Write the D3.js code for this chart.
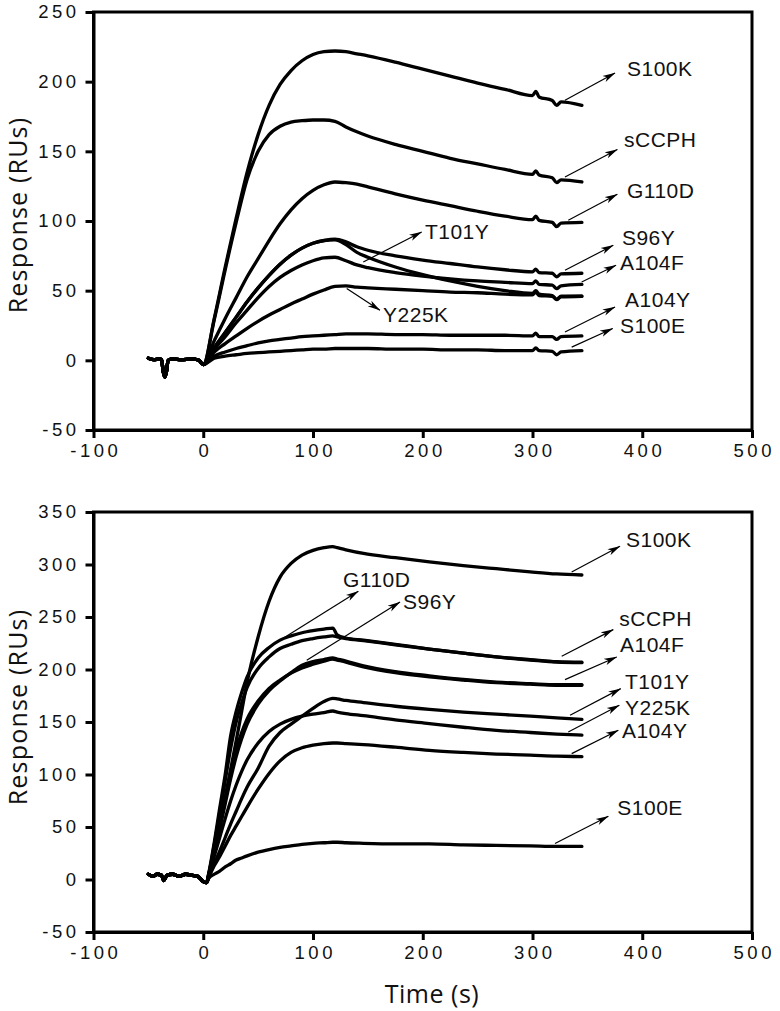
<!DOCTYPE html>
<html>
<head>
<meta charset="utf-8">
<script src="https://cdn.jsdelivr.net/npm/d3@7/dist/d3.min.js"></script>
<style>
  html, body { margin: 0; padding: 0; background: #fff; }
  svg { display: block; }
</style>
</head>
<body>
<svg id="chart" width="780" height="1011"></svg>
<script>
// ---------------- DATA ----------------
const xTicks = [-100, 0, 100, 200, 300, 400, 500];
const topYTicks = [-50, 0, 50, 100, 150, 200, 250];
const botYTicks = [-50, 0, 50, 100, 150, 200, 250, 300, 350];

// Top panel: pre-injection baseline (shared by all traces)
const topBaseTime = [-50, -45, -40, -38, -36.5, -35, -33.5, -32, -28, -20, -10, -4, 0];
const topBaseVals = [1.5, 0.5, 1, 0.5, -8, -12, -8, 0, 1, 0.5, 1, 0, -3];
// Top panel: time points after injection
const topTime = [10, 20, 30, 40, 50, 60, 70, 80, 90, 100, 110, 120, 130, 140, 150, 175, 200, 225, 250, 275, 300, 303, 306, 318, 322, 326, 345];
const topS100K = [30, 67, 102, 135, 162, 183, 198, 208, 215, 219.5, 221.5, 222, 221.5, 220, 218.5, 214, 209, 204, 199, 194.5, 190, 193, 189, 186.5, 183, 185.5, 183];
const topSCCPH = [29, 65, 99, 130, 150, 162, 168, 171, 172, 172.5, 172.5, 171.5, 167.5, 164, 161, 155, 150, 145, 141, 137, 133.5, 136, 133, 131, 127.5, 129.5, 128];
const topG110D = [14, 30, 45, 60, 73, 86, 98, 108, 116, 122, 126, 128, 127.5, 126.5, 124.5, 119.5, 115, 111, 107, 103.5, 101, 103.5, 100.5, 99, 96, 98.5, 99];
const topS96Y  = [9, 20, 31, 42, 52, 61, 69, 75.5, 80.5, 84, 86, 87, 85, 81.5, 79, 75, 72, 69.5, 67, 65, 63.5, 65.5, 63, 62.5, 60, 62, 62.5];
const topT101Y = [9, 20, 31, 42, 52, 61, 69, 75.5, 80.5, 84, 86, 86.5, 83, 77.5, 74, 67, 61.5, 57, 53, 50, 48, 50, 47.5, 46.5, 44, 46, 46];
const topA104F = [8, 17, 27, 36, 45, 53, 59.5, 64.5, 68.5, 71.5, 73.5, 74, 71.5, 68.5, 66.5, 63, 60.5, 58.5, 57, 56, 55, 57, 54.5, 54, 51.5, 53.5, 54.5];
const topY225K = [6, 12, 17.5, 23, 28, 32.5, 36.5, 40.5, 44, 47.5, 50.5, 53, 53.5, 52.5, 52, 51, 50, 49, 48.5, 47.5, 47, 49, 46.5, 46, 43.5, 45.5, 46];
const topA104Y = [3, 6, 8.5, 10.5, 12.5, 14, 15, 16, 17, 17.5, 18, 18.5, 19, 19, 19, 18.5, 18.5, 18, 18, 18, 17.5, 19.5, 17, 17, 15, 17, 17.5];
const topS100E = [1.5, 3, 4, 5, 5.5, 6, 6.5, 7, 7.5, 8, 8, 8.5, 8.5, 8.5, 8.5, 8, 8, 7.5, 7.5, 7, 7, 9, 7, 6.5, 4, 6, 7];

// Bottom panel
const botBaseTime = [-50, -46, -42, -38, -36, -33, -28, -22, -16, -10, -5, 0, 3];
const botBaseVals = [5, 3, 5, 4, -1, 4, 5, 3, 5, 4, 3, -2, -3];
const botTime = [5, 10, 15, 20, 25, 30, 35, 40, 50, 60, 70, 80, 90, 100, 110, 118, 122, 130, 146, 175, 206, 237, 267, 298, 322, 345];
const botS100K = [5, 30, 52, 78, 105, 132, 160, 188, 231, 265, 288, 301, 309, 313.5, 316, 317, 316, 314, 310.5, 306.5, 302.5, 299, 296, 293, 291, 290];
const botG110D = [6, 35, 68, 100, 137, 160, 178, 193, 211, 221, 228, 232, 235, 237, 238.5, 239.5, 233, 230, 228, 224, 219.5, 215.5, 212, 209.5, 207.5, 207];
const botSCCPH = [5, 33, 63, 94, 125, 150, 168, 183, 201, 212, 220, 224, 227.5, 229.5, 231, 232, 231, 229.5, 227.5, 223.5, 219.5, 215.5, 212, 209, 207, 206.5];
const botA104F = [4, 28, 52, 78, 103, 124, 140, 153, 170, 182, 190, 196.5, 201.5, 205, 208, 210, 209, 207, 202.5, 197, 193, 190, 187.5, 186, 185, 185];
const botS96Y  = [4, 25, 48, 72, 96, 117, 134, 148, 167, 180, 189, 197, 204, 207.5, 209.5, 211, 210, 208, 203.5, 198, 194, 190.5, 188, 186.5, 185.5, 185.5];
const botT101Y = [2, 15, 27, 40, 53, 65, 77, 88, 106, 127, 140, 148, 155.5, 163, 169.5, 172.5, 172, 170.5, 168.5, 165, 162, 159.5, 157.5, 155.5, 154, 152.5];
const botY225K = [3, 22, 40, 58, 75, 90, 103, 114, 130, 141, 148, 152.5, 155.5, 157.5, 159, 160.5, 159.5, 158, 156, 152, 148.5, 145, 142, 140, 138.5, 137.5];
const botA104Y = [2, 13, 22, 32, 42, 51, 60, 69, 86, 101, 113, 121, 125.5, 128, 129.5, 130, 130, 129.5, 128.5, 126, 123, 121, 119.5, 118.5, 117.5, 117];
const botS100E = [1, 5, 8, 12, 15, 18.5, 20.5, 22.5, 26, 28.5, 30.5, 32, 33.5, 34.5, 35, 35.5, 35.5, 35, 34.5, 34, 34, 33, 32.5, 32, 31.5, 31.5];

// Annotations: [label, arrow tail t, tail value, arrow head t, head value, label t, label value]
const topNotes = [
  ["S100K", 329.6, 186.6, 375.2, 206.2, 386.1, 203.9],
  ["sCCPH", 329.6, 131.6, 377.3, 151.3, 383.4, 152.9],
  ["G110D", 332.6, 100.5, 377.3, 119.2, 386.1, 116.3],
  ["S96Y", 329.6, 64.6, 373.6, 82.6, 381.5, 82.6],
  ["A104F", 344.8, 56.2, 376.1, 68.2, 379.7, 64.6],
  ["A104Y", 329.6, 20.3, 375.2, 38.3, 384.3, 38.0],
  ["S100E", 335.7, 9.5, 373.1, 22.8, 379.7, 19.4],
  ["T101Y", 145.8, 70.6, 199.0, 92.1, 202.0, 86.9],
  ["Y225K", 130.7, 51.5, 161.0, 35.9, 163.8, 27.3]
];
const botNotes = [
  ["S100K", 335.7, 292.9, 379.7, 317.3, 385.2, 316.4],
  ["sCCPH", 326.6, 212.6, 373.6, 238.0, 379.1, 241.1],
  ["A104F", 329.6, 190.4, 376.7, 211.9, 379.7, 216.4],
  ["T101Y", 334.2, 156.4, 380.4, 181.8, 384.3, 181.1],
  ["Y225K", 332.6, 140.5, 379.1, 165.9, 384.3, 156.4],
  ["A104Y", 335.7, 119.9, 378.2, 142.1, 381.5, 134.5],
  ["S100E", 320.5, 34.2, 369.1, 60.2, 377.3, 61.1],
  ["G110D", 69.9, 227.8, 141.3, 274.5, 127.3, 278.3],
  ["S96Y", 94.3, 208.8, 179.3, 264.3, 182.0, 257.3]
];

// ---------------- DRAW ----------------
const svg = d3.select("#chart");
const defs = svg.append("defs");
defs.append("marker")
  .attr("id", "arr")
  .attr("markerUnits", "userSpaceOnUse")
  .attr("viewBox", "0 0 13 8")
  .attr("markerWidth", 13).attr("markerHeight", 8)
  .attr("refX", 12.5).attr("refY", 4)
  .attr("orient", "auto")
  .append("path")
  .attr("d", "M0,0.6 L13,4 L0,7.4 L3.5,4 Z")
  .attr("fill", "#000");

const x = d3.scaleLinear().domain([-100, 500]).range([93.5, 752]);

function panel(cfg) {
  const y = d3.scaleLinear().domain(cfg.yDomain).range(cfg.yRange);
  const g = svg.append("g");

  // frame
  g.append("rect")
    .attr("x", x(-100)).attr("y", y(cfg.yDomain[1]))
    .attr("width", x(500) - x(-100)).attr("height", y(cfg.yDomain[0]) - y(cfg.yDomain[1]))
    .attr("fill", "none").attr("stroke", "#000").attr("stroke-width", 3);

  const fmt = d => String(d);
  const ax = g.append("g").attr("transform", `translate(0,${y(cfg.yDomain[0])})`)
    .call(d3.axisBottom(x).tickValues(xTicks).tickSize(8).tickSizeOuter(0).tickPadding(6).tickFormat(fmt));
  const ay = g.append("g").attr("transform", `translate(${x(-100)},0)`)
    .call(d3.axisLeft(y).tickValues(cfg.yTicks).tickSize(8).tickSizeOuter(0).tickPadding(6).tickFormat(fmt));
  [ax, ay].forEach(a => {
    a.select(".domain").attr("stroke-width", 3);
    a.selectAll(".tick line").attr("stroke-width", 3);
    a.selectAll(".tick text")
      .attr("font-family", "'Liberation Sans', Arial, sans-serif")
      .attr("font-size", 18.5).attr("fill", "#111")
      .style("letter-spacing", "3.5px");
  });
  ax.selectAll(".tick text").attr("dx", "1.75px");

  // traces
  const line = d3.line()
    .x(d => x(d[0])).y(d => y(d[1]))
    .curve(d3.curveMonotoneX);
  cfg.series.forEach(vals => {
    const pts = cfg.baseTime.map((t, i) => [t, cfg.baseVals[i]])
      .concat(cfg.time.map((t, i) => [t, vals[i]]));
    g.append("path").datum(pts)
      .attr("d", line)
      .attr("fill", "none").attr("stroke", "#000")
      .attr("stroke-width", 3.3).attr("stroke-linejoin", "round").attr("stroke-linecap", "round");
  });

  // annotations
  cfg.notes.forEach(n => {
    g.append("line")
      .attr("x1", x(n[1])).attr("y1", y(n[2]))
      .attr("x2", x(n[3])).attr("y2", y(n[4]))
      .attr("stroke", "#000").attr("stroke-width", 1.2)
      .attr("marker-end", "url(#arr)");
    g.append("text")
      .attr("x", x(n[5])).attr("y", y(n[6]))
      .attr("font-family", "'Liberation Sans', Arial, sans-serif")
      .attr("font-size", 21).attr("fill", "#111")
      .style("letter-spacing", "0.5px")
      .text(n[0]);
  });

  // y title
  g.append("text")
    .attr("transform", `translate(27,${cfg.titleY}) rotate(-90)`)
    .attr("text-anchor", "middle")
    .attr("font-family", "'Open Sans', sans-serif")
    .attr("font-size", 25).attr("fill", "#111")
    .style("letter-spacing", "1.2px")
    .text("Response (RUs)");
  return y;
}

panel({
  yDomain: [-50, 250], yRange: [430, 12], yTicks: topYTicks, titleY: 215,
  baseTime: topBaseTime, baseVals: topBaseVals, time: topTime,
  series: [topS100K, topSCCPH, topG110D, topS96Y, topT101Y, topA104F, topY225K, topA104Y, topS100E],
  notes: topNotes
});
panel({
  yDomain: [-50, 350], yRange: [932, 512], yTicks: botYTicks, titleY: 707,
  baseTime: botBaseTime, baseVals: botBaseVals, time: botTime,
  series: [botS100K, botG110D, botSCCPH, botA104F, botS96Y, botT101Y, botY225K, botA104Y, botS100E],
  notes: botNotes
});

svg.append("text")
  .attr("x", 432).attr("y", 1003)
  .attr("text-anchor", "middle")
  .attr("font-family", "'Open Sans', sans-serif")
  .attr("font-size", 25).attr("fill", "#111")
  .style("letter-spacing", "0.5px")
  .text("Time (s)");
</script>
</body>
</html>
